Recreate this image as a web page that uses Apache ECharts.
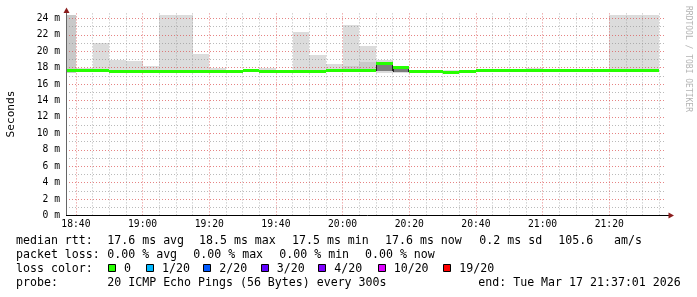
<!DOCTYPE html>
<html><head><meta charset="utf-8">
<script src="https://cdn.jsdelivr.net/npm/echarts@6/dist/echarts.min.js"></script>
<style>html,body{margin:0;padding:0;background:#fff}#c{width:697px;height:297px}</style>
</head><body><div id="c"></div><script>
// ---------------- data ----------------
const startTime = '18:37:01';
const endTime = '21:37:01';
const stepMinutes = 5;
const intervalEnd = ['18:40','18:45','18:50','18:55','19:00','19:05','19:10','19:15','19:20','19:25','19:30','19:35',
  '19:40','19:45','19:50','19:55','20:00','20:05','20:10','20:15','20:20','20:25','20:30','20:35',
  '20:40','20:45','20:50','20:55','21:00','21:05','21:10','21:15','21:20','21:25','21:30','21:35'];
const medianMs = [17.6,17.6,17.6,17.5,17.5,17.5,17.5,17.5,17.5,17.5,17.5,17.65,
  17.5,17.5,17.5,17.5,17.6,17.6,17.6,18.5,18.0,17.5,17.5,17.45,
  17.5,17.6,17.6,17.6,17.6,17.6,17.6,17.6,17.6,17.6,17.6,17.6];
const smokeLowMs = [17.4,17.45,17.45,17.35,17.35,17.35,17.35,17.35,17.35,17.35,null,null,
  17.4,null,17.3,17.35,17.45,17.45,17.45,17.38,17.4,null,null,17.45,
  null,null,null,null,17.5,17.5,null,null,null,17.5,17.5,17.5];
const smokeHighMs = [24.4,18.0,21.0,18.95,18.8,18.15,24.4,24.4,19.6,18.0,null,null,
  18.0,null,22.3,19.5,18.5,23.2,20.65,18.9,18.1,null,null,17.65,
  null,null,null,null,17.95,17.85,null,null,null,24.4,24.4,24.4];
const denseHighMs = [24.4,null,null,null,null,null,null,null,null,null,null,null,
  null,null,null,null,null,18.15,18.65,null,null,null,null,null,
  null,null,null,null,null,null,null,null,null,null,null,null];
const coreLowMs = [null,null,null,null,null,null,null,null,null,null,null,null,
  null,null,null,null,null,null,null,17.55,17.42,null,null,null,
  null,null,null,null,null,null,null,null,null,null,null,null];
const coreHighMs = [null,null,null,null,null,null,null,null,null,null,null,null,
  null,null,null,null,null,null,null,18.5,18.0,null,null,null,
  null,null,null,null,null,null,null,null,null,null,null,null];
const majorTimeTicks = ['18:40','19:00','19:20','19:40','20:00','20:20','20:40','21:00','21:20'];
const yMajorTicks = [0,2,4,6,8,10,12,14,16,18,20,22,24];
const yMinorTicks = [1,3,5,7,9,11,13,15,17,19,21,23];
const yMax = 24.6;
const yTitle = 'Seconds';
const watermark = 'RRDTOOL / TOBI OETIKER';
const rttHead = 'median rtt:';
const rttStats = ['17.6 ms avg','18.5 ms max','17.5 ms min','17.6 ms now','0.2 ms sd','105.6','am/s'];
const lossHead = 'packet loss:';
const lossStats = ['0.00 % avg','0.00 % max','0.00 % min','0.00 % now'];
const colorHead = 'loss color:';
const lossLevels = ['0','1/20','2/20','3/20','4/20','10/20','19/20'];
const lossColors = ['#26ff00','#00b8ff','#0059ff','#5e00ff','#7e00ff','#dd00ff','#ff0000'];
const probeHead = 'probe:';
const probeText = '20 ICMP Echo Pings (56 Bytes) every 300s';
const endText = 'end: Tue Mar 17 21:37:01 2026';

// ---------------- helpers ----------------
function toMin(s){const p=s.split(':').map(Number);return (p[0]-18)*60+p[1]+(p[2]||0)/60;}
function fmtTime(v){const t=Math.round(v);const h=18+Math.floor(t/60);const m=t%60;return h+':'+(m<10?'0':'')+m;}
const xMin = toMin(startTime), xMax = toMin(endTime);
const majorX = majorTimeTicks.map(toMin);
const minorX = intervalEnd.map(toMin).filter(v => majorX.indexOf(v) < 0);

function bands(lowArr, highArr){
  const out=[];
  intervalEnd.forEach((t,i)=>{ if(highArr[i]!=null && lowArr[i]!=null){ const e=toMin(t); out.push([e-stepMinutes,e,lowArr[i],highArr[i]]);} });
  return out;
}
function clipX(cs,a,b){return [Math.max(Math.round(a),cs.x),Math.min(Math.round(b),cs.x+cs.width)];}
function bandRender(fill){
  return function(params, api){
    const cs=params.coordSys;
    const a=api.coord([api.value(0),api.value(3)]);
    const b=api.coord([api.value(1),api.value(2)]);
    const xs=clipX(cs,a[0],b[0]);
    const y0=Math.max(Math.round(a[1]),Math.round(cs.y)), y1=Math.round(b[1]);
    if(xs[1]<=xs[0]||y1<=y0) return null;
    return {type:'rect',shape:{x:xs[0],y:y0,width:xs[1]-xs[0],height:y1-y0},style:{fill:fill}};
  };
}
function coreRender(params, api){
  const cs=params.coordSys;
  const a=api.coord([api.value(0),api.value(3)]);
  const b=api.coord([api.value(1),api.value(2)]);
  const xs=clipX(cs,a[0],b[0]);
  const y0=Math.round(a[1]), y1=Math.round(b[1]);
  return {type:'group',children:[
    {type:'rect',shape:{x:xs[0],y:y0,width:xs[1]-xs[0],height:y1-y0},style:{fill:'#7d7d7d'}},
    {type:'line',shape:{x1:xs[0]+0.5,y1:y0-1,x2:xs[0]+0.5,y2:y1},style:{stroke:'#222',lineWidth:1}},
    {type:'line',shape:{x1:xs[1]-0.5,y1:y0-1,x2:xs[1]-0.5,y2:y1},style:{stroke:'#222',lineWidth:1}}
  ]};
}
function medianRender(params, api){
  const cs=params.coordSys;
  const a=api.coord([api.value(0),api.value(2)]);
  const b=api.coord([api.value(1),api.value(2)]);
  const xs=clipX(cs,a[0],b[0]);
  const y=Math.round(a[1]-1.5);
  return {type:'rect',shape:{x:xs[0],y:y,width:xs[1]-xs[0],height:3},style:{fill:lossColors[0]}};
}
const medianData = intervalEnd.map((t,i)=>{const e=toMin(t);return [e-stepMinutes,e,medianMs[i]];});

const MONO='"DejaVu Sans Mono", monospace';
const majorGrid={show:true,lineStyle:{color:'rgba(220,80,80,0.7)',width:1,type:[1,2]}};
const minorGrid={show:true,lineStyle:{color:'rgba(140,140,140,0.6)',width:1,type:[1,2]}};

// ---------------- legend graphics ----------------
const G=[];
function txt(x,y,s,extra){G.push(Object.assign({type:'text',x:x,y:y,z:100,style:{text:s,font:'11.6px '+MONO,fill:'#000',verticalAlign:'middle'}},extra||{}));}
const rowY=[241,255,268.5,283];
const statX=[107.3,199,292,385,479.3,558.3,614];
const lossX=[107.3,193.3,279.3,365];
const boxX=[108,146,203.3,260.7,318.3,377.7,443.3];
txt(16,rowY[0],rttHead); rttStats.forEach((s,i)=>txt(statX[i],rowY[0],s));
txt(16,rowY[1],lossHead); lossStats.forEach((s,i)=>txt(lossX[i],rowY[1],s));
txt(16,rowY[2],colorHead);
lossLevels.forEach((s,i)=>{
  G.push({type:'rect',z:100,shape:{x:Math.round(boxX[i])+0.5,y:264.5,width:7,height:7},style:{fill:lossColors[i],stroke:'#000',lineWidth:1}});
  txt(boxX[i]+16,rowY[2],s);
});
txt(16,rowY[3],probeHead); txt(107.3,rowY[3],probeText); txt(478.3,rowY[3],endText);
// axis title + watermark
G.push({type:'text',x:11,y:114,rotation:Math.PI/2,z:100,style:{text:yTitle,font:'11.1px '+MONO,fill:'#000',align:'center',verticalAlign:'middle'}});
G.push({type:'text',x:688,y:59,rotation:-Math.PI/2,z:100,style:{text:watermark,font:'8px '+MONO,fill:'#b4b4b4',align:'center',verticalAlign:'middle'}});
// axis lines + arrows
G.push({type:'line',z:90,shape:{x1:66.5,y1:215,x2:66.5,y2:10},style:{stroke:'#666',lineWidth:1}});
G.push({type:'line',z:90,shape:{x1:66,y1:215.5,x2:669,y2:215.5},style:{stroke:'#000',lineWidth:1}});
G.push({type:'polygon',z:91,shape:{points:[[66.5,7.5],[63.5,13],[69.5,13]]},style:{fill:'#8b1d1d'}});
G.push({type:'polygon',z:91,shape:{points:[[674,215.5],[668.5,212.5],[668.5,218.5]]},style:{fill:'#8b1d1d'}});

const chart=echarts.init(document.getElementById('c'),null,{renderer:'canvas'});
chart.setOption({
  animation:false,
  backgroundColor:'#fff',
  grid:{left:66,right:31,top:13.4,bottom:81.5},
  xAxis:[
    {type:'value',min:xMin,max:xMax,z:1,
     axisLine:{show:false},axisTick:{show:false,customValues:majorX},
     axisLabel:{customValues:majorX,formatter:fmtTime,color:'#000',fontFamily:MONO,fontSize:9.7,margin:4},
     splitLine:majorGrid},
    {type:'value',min:xMin,max:xMax,z:1,position:'top',
     axisLine:{show:false},axisTick:{show:false,customValues:minorX},axisLabel:{show:false},
     splitLine:minorGrid}
  ],
  yAxis:[
    {type:'value',min:0,max:yMax,z:1,
     axisLine:{show:false},axisTick:{show:false,customValues:yMajorTicks},
     axisLabel:{customValues:yMajorTicks,formatter:v=>v+' m',color:'#000',fontFamily:MONO,fontSize:9.7,margin:6},
     splitLine:majorGrid},
    {type:'value',min:0,max:yMax,z:1,position:'right',
     axisLine:{show:false},axisTick:{show:false,customValues:yMinorTicks},axisLabel:{show:false},
     splitLine:minorGrid}
  ],
  series:[
    {type:'custom',name:'smoke',z:0,xAxisIndex:0,yAxisIndex:0,clip:true,data:bands(smokeLowMs,smokeHighMs),renderItem:bandRender('#dcdcdc')},
    {type:'custom',name:'dense',z:0,xAxisIndex:0,yAxisIndex:0,clip:true,data:bands(smokeLowMs,denseHighMs),renderItem:bandRender('#c9c9c9')},
    {type:'custom',name:'core',z:3,xAxisIndex:0,yAxisIndex:0,data:bands(coreLowMs,coreHighMs),renderItem:coreRender},
    {type:'custom',name:'median',z:4,xAxisIndex:0,yAxisIndex:0,clip:true,data:medianData,renderItem:medianRender}
  ],
  graphic:G
});
</script></body></html>
